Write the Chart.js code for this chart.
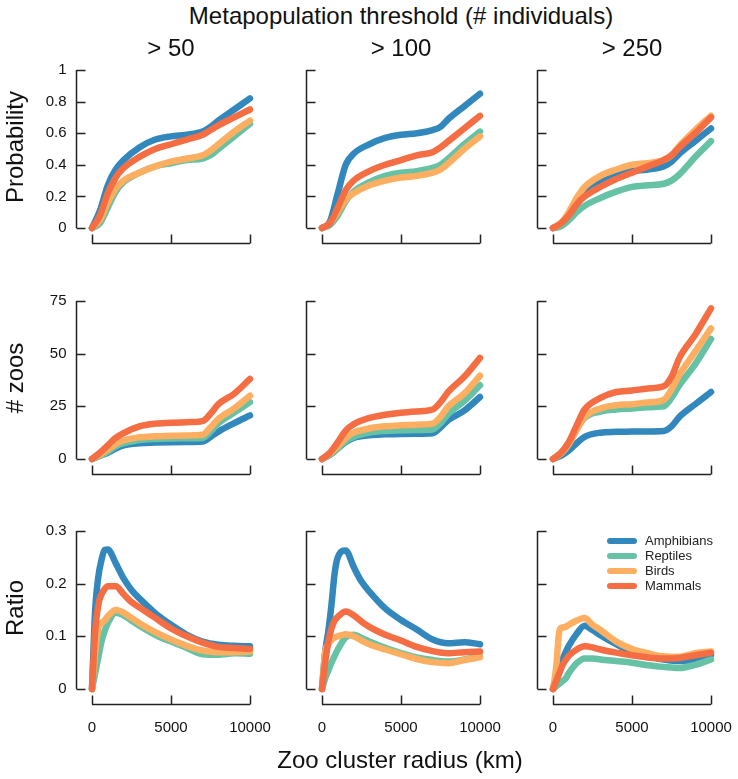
<!DOCTYPE html>
<html>
<head>
<meta charset="utf-8">
<script src="https://cdn.jsdelivr.net/npm/chart.js@4/dist/chart.umd.min.js"></script>
<style>
  body { margin: 0; background: #fff; font-family: "Liberation Sans", Arial, sans-serif; color: #111; }
  #page { position: relative; width: 738px; height: 779px; overflow: hidden; }
  canvas { position: absolute; }
  .txt { position: absolute; white-space: nowrap; font-size: 24px; transform: translate(-50%, -50%); }
  .rot { transform: translate(-50%, -50%) rotate(-90deg); }
</style>
</head>
<body>
<div id="page"></div>
<script>
// categories
const species = ['Amphibians', 'Reptiles', 'Birds', 'Mammals'];
const colors = ['#3288bd', '#66c2a5', '#fdae61', '#f46d43'];
const thresholds = ['> 50', '> 100', '> 250'];
const rowTitles = ['Probability', '# zoos', 'Ratio'];

// x values (km)
const radiusKm = [0, 500, 1000, 1500, 2000, 3000, 4000, 5000, 6000, 7000, 7500, 8000, 9000, 10000];
const radiusKmFine = [0, 200, 400, 600, 800, 1000, 1500, 2000, 2500, 3000, 4000, 5000, 6000, 7000, 8000, 9000, 10000];

// tick labels
const radiusTicks = [0, 5000, 10000];
const probTicks = [0, 0.2, 0.4, 0.6, 0.8, 1];
const zooTicks = [0, 25, 50, 75];
const ratioTicks = [0, 0.1, 0.2, 0.3];

// probability, order = Amphibians, Reptiles, Birds, Mammals
const prob50 = [
  [0, 0.11, 0.27, 0.37, 0.43, 0.51, 0.56, 0.58, 0.59, 0.61, 0.64, 0.68, 0.75, 0.82],
  [0, 0.03, 0.13, 0.23, 0.29, 0.35, 0.39, 0.41, 0.43, 0.44, 0.46, 0.50, 0.58, 0.66],
  [0, 0.05, 0.16, 0.25, 0.30, 0.35, 0.39, 0.42, 0.44, 0.46, 0.49, 0.53, 0.61, 0.68],
  [0, 0.08, 0.22, 0.32, 0.38, 0.45, 0.50, 0.53, 0.56, 0.59, 0.62, 0.65, 0.70, 0.75]
];
const prob100 = [
  [0, 0.04, 0.22, 0.40, 0.47, 0.53, 0.57, 0.59, 0.60, 0.62, 0.64, 0.69, 0.77, 0.85],
  [0, 0.02, 0.08, 0.17, 0.23, 0.29, 0.33, 0.35, 0.36, 0.38, 0.40, 0.44, 0.53, 0.61],
  [0, 0.03, 0.10, 0.18, 0.22, 0.27, 0.30, 0.32, 0.33, 0.35, 0.37, 0.41, 0.50, 0.58],
  [0, 0.03, 0.13, 0.24, 0.30, 0.36, 0.40, 0.43, 0.46, 0.48, 0.51, 0.55, 0.63, 0.71]
];
const prob250 = [
  [0, 0.02, 0.07, 0.15, 0.24, 0.30, 0.34, 0.36, 0.37, 0.39, 0.42, 0.47, 0.55, 0.63],
  [0, 0.01, 0.05, 0.10, 0.14, 0.19, 0.23, 0.26, 0.27, 0.28, 0.30, 0.34, 0.45, 0.55],
  [0, 0.03, 0.10, 0.19, 0.26, 0.33, 0.37, 0.40, 0.41, 0.43, 0.46, 0.52, 0.62, 0.71],
  [0, 0.03, 0.08, 0.15, 0.20, 0.26, 0.31, 0.35, 0.39, 0.43, 0.46, 0.51, 0.60, 0.70]
];

// number of zoos
const zoos50 = [
  [0, 1.5, 3, 5, 6.5, 7.5, 7.8, 8, 8.1, 8.3, 10.5, 13, 17, 20.7],
  [0, 1.5, 3.5, 6, 7.5, 9, 9.5, 9.7, 9.8, 10, 13, 17, 22, 27],
  [0, 2, 4.5, 7, 8.8, 10.3, 10.8, 11, 11.2, 11.5, 15, 19, 24, 30],
  [0, 3, 6.5, 10, 12.3, 15.5, 16.8, 17.2, 17.5, 18, 21.5, 26, 31, 38]
];
const zoos100 = [
  [0, 2, 5, 8, 10, 11.3, 11.7, 11.9, 12, 12.2, 15, 18.5, 23, 29.4],
  [0, 2, 5, 8.5, 10.5, 12.5, 13.3, 13.6, 13.8, 14, 17, 21.5, 27.5, 35],
  [0, 2.5, 6, 10, 12.5, 14.5, 15.5, 16, 16.3, 16.8, 20, 25, 31, 39.6],
  [0, 3, 8, 13.5, 16.5, 19.5, 21, 22, 22.6, 23.5, 27, 32, 39, 48]
];
const zoos250 = [
  [0, 1.5, 4, 7.5, 10.5, 12.5, 12.9, 13, 13.1, 13.3, 15.5, 20, 26, 31.8],
  [0, 2.5, 7, 14, 19.5, 22.5, 23.5, 24, 24.6, 25, 29, 35, 45, 57],
  [0, 2.5, 7, 14, 20, 24, 25.5, 26, 26.8, 28, 33, 40, 51, 62],
  [0, 3, 8, 16, 23.5, 29, 31.8, 32.5, 33.5, 34.5, 39, 48, 59, 71.5]
];

// ratio (uses radiusKmFine)
const ratio50 = [
  [0, 0.15, 0.213, 0.245, 0.264, 0.265, 0.239, 0.21, 0.188, 0.172, 0.144, 0.122, 0.103, 0.09, 0.084, 0.082, 0.081],
  [0, 0.03, 0.06, 0.09, 0.11, 0.125, 0.145, 0.14, 0.13, 0.12, 0.103, 0.09, 0.078, 0.066, 0.065, 0.068, 0.067],
  [0, 0.07, 0.115, 0.125, 0.13, 0.138, 0.15, 0.145, 0.135, 0.125, 0.108, 0.094, 0.082, 0.073, 0.07, 0.07, 0.071],
  [0, 0.11, 0.16, 0.18, 0.19, 0.195, 0.195, 0.18, 0.165, 0.155, 0.135, 0.115, 0.10, 0.088, 0.08, 0.078, 0.076]
];
const ratio100 = [
  [0, 0.07, 0.11, 0.16, 0.22, 0.25, 0.263, 0.232, 0.204, 0.185, 0.153, 0.131, 0.113, 0.094, 0.087, 0.089, 0.085],
  [0, 0.02, 0.035, 0.05, 0.063, 0.075, 0.098, 0.103, 0.097, 0.09, 0.078, 0.068, 0.06, 0.055, 0.052, 0.056, 0.062],
  [0, 0.07, 0.085, 0.093, 0.098, 0.1, 0.104, 0.1, 0.092, 0.085, 0.075, 0.066, 0.057, 0.051, 0.049, 0.055, 0.06],
  [0, 0.05, 0.09, 0.115, 0.13, 0.137, 0.147, 0.14, 0.128, 0.118, 0.103, 0.092, 0.08, 0.072, 0.068, 0.07, 0.071]
];
const ratio250 = [
  [0, 0.02, 0.035, 0.055, 0.07, 0.082, 0.105, 0.12, 0.112, 0.102, 0.085, 0.07, 0.062, 0.056, 0.053, 0.057, 0.065],
  [0, 0.005, 0.01, 0.015, 0.02, 0.03, 0.049, 0.058, 0.058, 0.056, 0.053, 0.05, 0.045, 0.042, 0.04, 0.046, 0.056],
  [0, 0.04, 0.11, 0.117, 0.118, 0.122, 0.13, 0.135, 0.122, 0.112, 0.09, 0.076, 0.068, 0.062, 0.061, 0.068, 0.071],
  [0, 0.015, 0.03, 0.045, 0.055, 0.063, 0.075, 0.081, 0.079, 0.075, 0.069, 0.064, 0.06, 0.058, 0.059, 0.064, 0.069]
];

const rows = [
  { panels: [prob50, prob100, prob250], xs: radiusKm, ticks: probTicks },
  { panels: [zoos50, zoos100, zoos250], xs: radiusKm, ticks: zooTicks },
  { panels: [ratio50, ratio100, ratio250], xs: radiusKmFine, ticks: ratioTicks }
];

// layout (px)
const colLeft = [92, 322, 553];
const rowTop = [70, 301, 531];
const plotSize = 158;
const pad = { left: 80, top: 12, right: 30, bottom: 60 };
const page = document.getElementById('page');

function addText(str, x, y, cls) {
  let d = document.createElement('div');
  d.className = 'txt' + (cls ? ' ' + cls : '');
  d.style.left = x + 'px';
  d.style.top = y + 'px';
  d.textContent = str;
  page.appendChild(d);
}

// R style detached axes, ticks pointing inwards
const rAxes = {
  id: 'rAxes',
  afterDraw(chart, args, opts) {
    const ctx = chart.ctx;
    const x = chart.scales.x, y = chart.scales.y, area = chart.chartArea;
    const ax = Math.round(area.left - 16) + 0.5;
    const ay = Math.round(area.bottom + 15) + 0.5;
    ctx.save();
    ctx.strokeStyle = '#222';
    ctx.lineWidth = 1.5;
    ctx.beginPath();
    let yt = opts.yTicks;
    ctx.moveTo(ax, y.getPixelForValue(yt[0]));
    ctx.lineTo(ax, y.getPixelForValue(yt[yt.length - 1]));
    yt.forEach(v => {
      let p = Math.round(y.getPixelForValue(v)) + 0.5;
      ctx.moveTo(ax, p);
      ctx.lineTo(ax + 9, p);
    });
    ctx.moveTo(x.getPixelForValue(radiusTicks[0]), ay);
    ctx.lineTo(x.getPixelForValue(radiusTicks[radiusTicks.length - 1]), ay);
    radiusTicks.forEach(v => {
      let p = Math.round(x.getPixelForValue(v)) + 0.5;
      ctx.moveTo(p, ay);
      ctx.lineTo(p, ay - 9);
    });
    ctx.stroke();

    ctx.fillStyle = '#111';
    ctx.font = '15px "Liberation Sans", Arial, sans-serif';
    if (opts.yLabels) {
      ctx.textAlign = 'right';
      ctx.textBaseline = 'middle';
      yt.forEach(v => ctx.fillText(String(v), ax - 10, y.getPixelForValue(v)));
    }
    if (opts.xLabels) {
      ctx.textAlign = 'center';
      ctx.textBaseline = 'middle';
      radiusTicks.forEach(v => ctx.fillText(String(v), x.getPixelForValue(v), ay + 23));
    }
    if (opts.legend) {
      ctx.font = '13px "Liberation Sans", Arial, sans-serif';
      ctx.textAlign = 'left';
      ctx.lineCap = 'round';
      species.forEach((s, i) => {
        let ly = area.top + 10 + i * 15;
        ctx.strokeStyle = colors[i];
        ctx.lineWidth = 6;
        ctx.beginPath();
        ctx.moveTo(area.left + 57, ly);
        ctx.lineTo(area.left + 81, ly);
        ctx.stroke();
        ctx.fillStyle = '#222';
        ctx.fillText(s, area.left + 92, ly);
      });
    }
    ctx.restore();
  }
};

rows.forEach((row, r) => {
  row.panels.forEach((series, c) => {
    let cv = document.createElement('canvas');
    cv.width = plotSize + pad.left + pad.right;
    cv.height = plotSize + pad.top + pad.bottom;
    cv.style.left = (colLeft[c] - pad.left) + 'px';
    cv.style.top = (rowTop[r] - pad.top) + 'px';
    page.appendChild(cv);

    let datasets = series.map((vals, i) => ({
      label: species[i],
      data: vals.map((v, j) => ({ x: row.xs[j], y: v })),
      borderColor: colors[i],
      borderWidth: 6.5,
      borderCapStyle: 'round',
      borderJoinStyle: 'round',
      cubicInterpolationMode: 'monotone',
      pointRadius: 0,
      clip: false,
      order: 3 - i
    }));

    new Chart(cv, {
      type: 'line',
      data: { datasets: datasets },
      options: {
        responsive: false,
        animation: false,
        events: [],
        layout: { padding: pad },
        scales: {
          x: { type: 'linear', min: 0, max: 10000, display: false },
          y: { min: row.ticks[0], max: row.ticks[row.ticks.length - 1], display: false }
        },
        plugins: {
          legend: { display: false },
          tooltip: { enabled: false },
          rAxes: {
            yTicks: row.ticks,
            yLabels: c === 0,
            xLabels: r === 2,
            legend: r === 2 && c === 2
          }
        }
      },
      plugins: [rAxes]
    });
  });
});

// titles
addText('Metapopulation threshold (# individuals)', 401, 16);
thresholds.forEach((t, c) => addText(t, colLeft[c] + plotSize / 2, 48));
rowTitles.forEach((t, r) => addText(t, 15, rowTop[r] + plotSize / 2 - 2, 'rot'));
addText('Zoo cluster radius (km)', 400, 760);
</script>
</body>
</html>
